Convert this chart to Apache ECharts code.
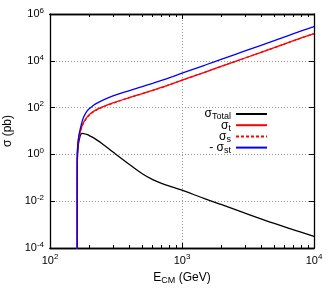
<!DOCTYPE html>
<html><head><meta charset="utf-8">
<script src="https://cdn.jsdelivr.net/npm/echarts@6/dist/echarts.min.js"></script>
<style>html,body{margin:0;padding:0;background:#fff}#c{width:332px;height:297px}</style>
</head><body><div id="c"></div>
<script>
// Data (E_CM in GeV, cross sections in pb)
const energies   = [160.78, 160.8, 161, 162, 164, 166, 168, 170, 175, 180, 190, 200, 220, 250, 300, 400, 500, 600, 700, 850, 1000, 1500, 2000, 3000, 5000, 7000, 10000];
const sigmaTotal = [1e-6, 0.1, 0.4, 1.0, 2.5, 4.0, 5.2, 6.6, 7.9, 7.8, 7.1, 6.2, 4.6, 2.8, 1.26, 0.37, 0.15, 0.084, 0.058, 0.040, 0.0295, 0.0126, 0.0071, 0.0031, 0.00112, 0.0006, 0.000316];
const sigmaT     = [1e-6, 0.45, 0.89, 2.0, 3.98, 6.03, 7.94, 10, 16.6, 24, 38, 52.5, 75.9, 107, 158, 269, 398, 550, 724, 1070, 1479, 3311, 5888, 13180, 36310, 72440, 144500];
const sigmaS     = [1e-6, 0.4, 0.85, 1.9, 3.8, 5.8, 7.6, 9.5, 15.5, 22.5, 36, 50, 73, 104, 155, 266, 395, 546, 720, 1065, 1470, 3300, 5880, 13170, 36300, 72400, 144400];
const sigmaST    = [1e-6, 0.5, 1.0, 2.24, 4.47, 7.08, 10, 13.2, 25.1, 39.8, 69.2, 93.3, 141, 204, 316, 537, 794, 1090, 1445, 2120, 2951, 6607, 11750, 26300, 72440, 144500, 288400];
const seriesNames  = ['Total', 't', 's', 'st'];
const legendLabels = {'Total': 'σ{sub|Total}', 't': 'σ{sub|t}', 's': 'σ{sub|s}', 'st': '- σ{sub|st}'};
const xMajorTicks = [100, 1000, 10000];
const xMinorTicks = [200, 300, 400, 500, 600, 700, 800, 900, 2000, 3000, 4000, 5000, 6000, 7000, 8000, 9000];
const yMajorTicks = [1e-4, 1e-2, 1, 1e2, 1e4, 1e6];

const FONT = 'Liberation Sans';
const expFmt = v => '10{sup|' + Math.round(Math.log10(v)) + '}';
const labelRich = { sup: { fontSize: 8, fontFamily: FONT, color: '#000', padding: [0, 0, 7, 0] } };
const axisLineStyle = { color: '#000', width: 1.3 };
const gridSplit = { show: true, lineStyle: { type: [1, 2], color: '#999', width: 1 } };

function xAxisDef(pos, ticks, len, showLabel, split, extra) {
  return Object.assign({
    type: 'log', logBase: 10, min: 100, max: 10000, interval: 1, position: pos,
    axisLine: { show: true, onZero: false, lineStyle: axisLineStyle },
    axisTick: { show: true, inside: true, length: len, customValues: ticks, lineStyle: { color: '#000', width: 1 } },
    axisLabel: showLabel ? { show: true, customValues: ticks, formatter: expFmt, fontSize: 11, fontFamily: FONT, color: '#000', margin: 5, rich: labelRich } : { show: false },
    splitLine: split ? gridSplit : { show: false }
  }, extra || {});
}
function yAxisDef(pos, showLabel, split, extra) {
  return Object.assign({
    type: 'log', logBase: 10, min: 1e-4, max: 1e6, interval: 2, position: pos,
    axisLine: { show: true, onZero: false, lineStyle: axisLineStyle },
    axisTick: { show: true, inside: true, length: 5, customValues: yMajorTicks, lineStyle: { color: '#000', width: 1 } },
    axisLabel: showLabel ? { show: true, customValues: yMajorTicks, formatter: expFmt, fontSize: 11, fontFamily: FONT, color: '#000', margin: 6, rich: labelRich } : { show: false },
    splitLine: split ? gridSplit : { show: false }
  }, extra || {});
}

const colors = { 'Total': '#000000', 't': '#ff0000', 's': '#ff0000', 'st': '#0000ff' };
const values = { 'Total': sigmaTotal, 't': sigmaT, 's': sigmaS, 'st': sigmaST };

const chart = echarts.init(document.getElementById('c'), null, { renderer: 'canvas' });
chart.setOption({
  animation: false,
  backgroundColor: '#fff',
  grid: { left: 50, right: 18, top: 14, bottom: 49, containLabel: false, outerBoundsMode: 'none' },
  legend: {
    orient: 'vertical', right: 59, top: 103, align: 'right',
    itemWidth: 31, itemHeight: 10, itemGap: -2.3,
    data: seriesNames,
    itemStyle: { opacity: 0 },
    formatter: n => legendLabels[n],
    textStyle: { fontSize: 12, fontFamily: FONT, color: '#000',
      rich: { sub: { fontSize: 9, fontFamily: FONT, color: '#000', padding: [6, 0, 0, 0] } } }
  },
  xAxis: [
    xAxisDef('bottom', xMajorTicks, 5, true, true, {
      name: 'E{sub|CM} (GeV)', nameLocation: 'middle', nameGap: 22,
      nameTextStyle: { fontSize: 12, fontFamily: FONT, color: '#000',
        rich: { sub: { fontSize: 9, fontFamily: FONT, color: '#000', padding: [6, 0, 0, 0] } } }
    }),
    xAxisDef('bottom', xMinorTicks, 3, false, false),
    xAxisDef('top', xMajorTicks, 5, false, false),
    xAxisDef('top', xMinorTicks, 3, false, false)
  ],
  yAxis: [
    yAxisDef('left', true, true, {
      name: 'σ (pb)', nameLocation: 'middle', nameGap: 34, nameRotate: 90,
      nameTextStyle: { fontSize: 12, fontFamily: FONT, color: '#000' }
    }),
    yAxisDef('right', false, false)
  ],
  series: seriesNames.map(n => ({
    name: n, type: 'line', xAxisIndex: 0, yAxisIndex: 0,
    showSymbol: false, symbol: 'none', smooth: 0.4, clip: true,
    data: energies.map((e, i) => [e, values[n][i]]),
    lineStyle: { color: colors[n], width: 1.3, type: n === 's' ? [3, 2] : 'solid' },
    itemStyle: { color: colors[n] }
  }))
});
</script></body></html>
